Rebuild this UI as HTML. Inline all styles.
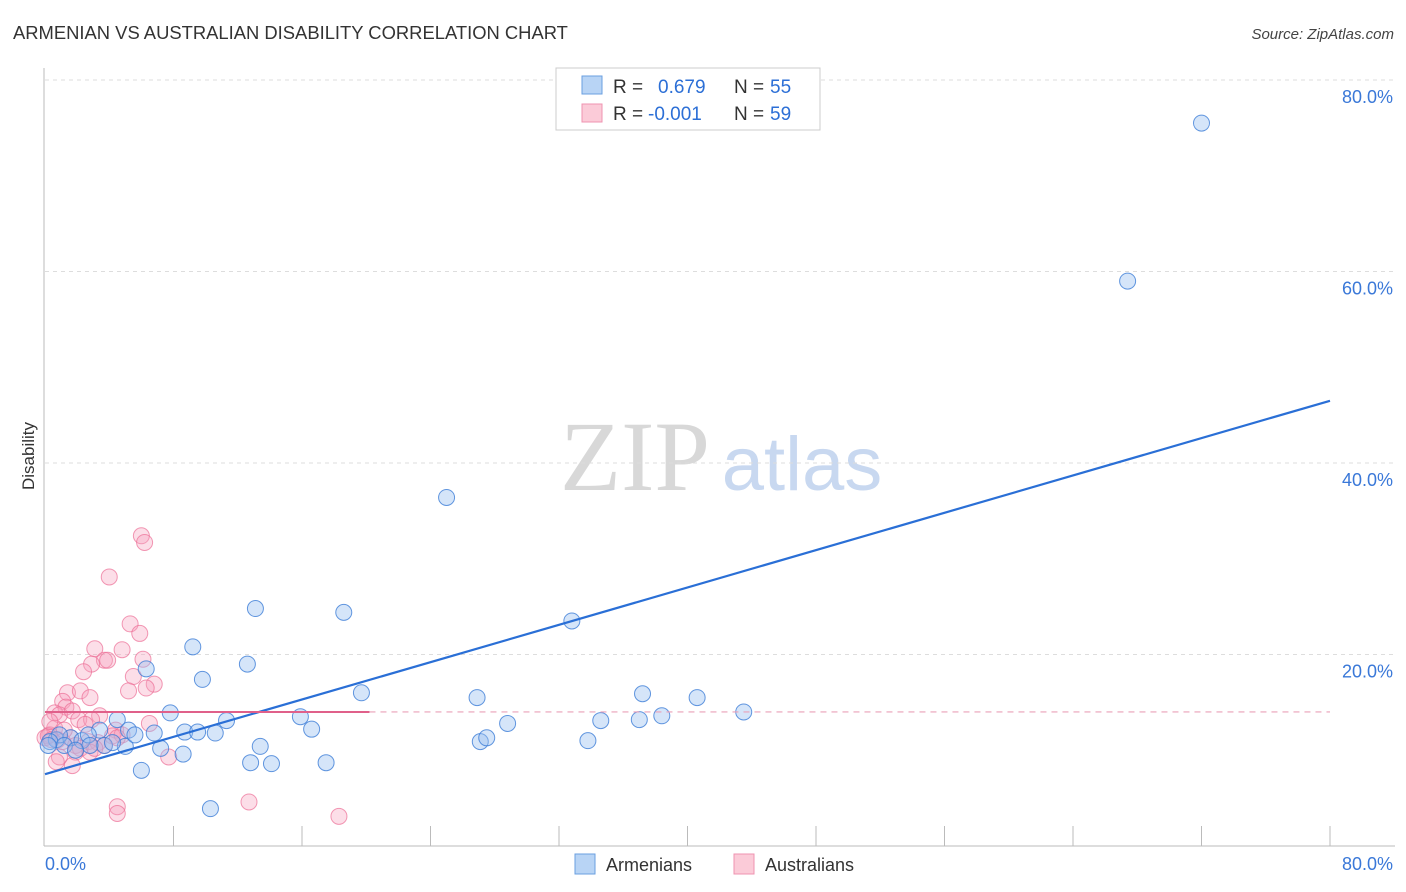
<!DOCTYPE html>
<html><head><meta charset="utf-8"><style>
body{margin:0;background:#fff;font-family:"Liberation Sans",sans-serif}
svg{display:block}
</style></head><body>
<svg id="chart" width="1406" height="892" viewBox="0 0 1406 892">
<text x="13" y="39" font-size="18.4" fill="#333">ARMENIAN VS AUSTRALIAN DISABILITY CORRELATION CHART</text>
<text x="1394" y="39" font-size="15" fill="#444" font-style="italic" text-anchor="end">Source: ZipAtlas.com</text>
<g>
<text x="635" y="490" font-size="100" font-family="Liberation Serif" fill="#d8d8d8" text-anchor="middle">ZIP</text>
<text x="802" y="490" font-size="76" fill="#c8d8f0" text-anchor="middle">atlas</text>
</g>
<g id="grid"></g>
<g id="axes"></g>
<g id="pts"></g>
<g id="trend"></g>
<g>
<rect x="556" y="68" width="264" height="62" fill="#fff" stroke="#ccc"/>
<rect x="582" y="76" width="20" height="18" fill="#b8d4f5" stroke="#6a9fe0"/>
<rect x="582" y="104" width="20" height="18" fill="#fbcbd8" stroke="#ef93b0"/>
<text x="613" y="93" font-size="19" fill="#333">R =</text>
<text x="658" y="93" font-size="19" fill="#2c6fd6">0.679</text>
<text x="734" y="93" font-size="19" fill="#333">N =</text>
<text x="770" y="93" font-size="19" fill="#2c6fd6">55</text>
<text x="613" y="120" font-size="19" fill="#333">R =</text>
<text x="648" y="120" font-size="19" fill="#2c6fd6">-0.001</text>
<text x="734" y="120" font-size="19" fill="#333">N =</text>
<text x="770" y="120" font-size="19" fill="#2c6fd6">59</text>
</g>
<g>
<rect x="575" y="854" width="20" height="20" fill="#b8d4f5" stroke="#6a9fe0"/>
<text x="606" y="871" font-size="18" fill="#333">Armenians</text>
<rect x="734" y="854" width="20" height="20" fill="#fbcbd8" stroke="#ef93b0"/>
<text x="765" y="871" font-size="18" fill="#333">Australians</text>
</g>
<text x="34" y="456" font-size="17" fill="#333" text-anchor="middle" transform="rotate(-90 34 456)">Disability</text>
</svg>
<script>
const armX=[72.0,67.4,25.0,32.8,13.1,18.6,9.2,12.6,6.3,9.8,19.7,26.9,37.2,40.6,43.5,7.8,15.9,38.4,28.8,34.6,37.0,11.3,4.5,5.2,8.7,9.5,10.6,16.6,6.8,27.1,27.5,33.8,13.4,3.4,7.2,5.0,0.7,1.6,2.3,3.7,8.6,12.8,14.1,17.5,6.0,10.3,0.9,2.7,0.3,1.2,2.8,4.2,5.6,1.9,0.2];
const armY=[75.5,59.0,36.4,23.5,24.8,24.4,20.8,19.0,18.5,17.4,16.0,15.5,15.9,15.5,14.0,13.9,13.5,13.6,12.8,13.1,13.2,13.1,13.2,12.1,11.9,11.9,11.8,12.2,11.8,10.9,11.3,11.0,10.4,12.1,10.2,10.4,11.1,11.3,11.0,10.5,9.6,8.7,8.6,8.7,7.9,3.9,11.6,11.6,10.9,10.5,10.5,10.8,11.6,10.0,10.5];
const ausX=[6.0,6.2,4.0,5.3,5.9,3.1,4.8,3.7,3.9,2.9,6.1,2.4,5.5,6.8,6.3,5.2,1.4,2.2,2.8,1.1,1.3,0.6,0.9,1.7,3.4,2.1,2.9,6.5,2.5,4.4,0.6,0.3,1.6,0.8,0.0,0.2,0.4,1.1,1.9,2.7,3.3,4.2,4.8,2.2,3.7,0.9,1.9,2.8,7.7,1.7,0.7,3.1,4.5,1.2,0.3,4.5,4.5,12.7,18.3];
const ausY=[32.4,31.7,28.1,23.2,22.2,20.6,20.5,19.4,19.4,19.0,19.5,18.2,17.7,16.9,16.5,16.2,16.0,16.2,15.5,15.1,14.5,13.9,13.7,14.1,13.6,13.2,13.2,12.8,12.7,12.1,12.3,11.6,11.3,11.1,11.3,11.5,11.1,10.9,10.5,10.9,10.8,11.5,11.6,10.2,10.5,9.3,9.8,9.8,9.3,8.4,8.8,10.2,11.3,12.1,13.0,4.1,3.4,4.6,3.1];
const yTicks=[20,40,60,80];
const yTickLabels=["20.0%","40.0%","60.0%","80.0%"];
const xTicks=[8,16,24,32,40,48,56,64,72,80];
const armTrend=[7.5,46.5];
const ausTrend=[14.0,14.0];
const ausSolidEnd=20.2;
const NS="http://www.w3.org/2000/svg";
const X=v=>45+v*(1285/80), Y=v=>846-v*(766/80);
function mk(tag,attrs,parent){const e=document.createElementNS(NS,tag);for(const k in attrs)e.setAttribute(k,attrs[k]);parent.appendChild(e);return e;}
const grid=document.getElementById('grid'),axes=document.getElementById('axes'),pts=document.getElementById('pts'),trend=document.getElementById('trend');
yTicks.forEach((t,i)=>{
 const l=mk('line',{x1:45,x2:1395,y1:Y(t),y2:Y(t),stroke:'#ddd','stroke-dasharray':'4,4'},grid);
 
 
 const tx=mk('text',{x:1393,y:Y(t)+23,'font-size':18,fill:'#3a78d8','text-anchor':'end'},axes);
 tx.textContent=yTickLabels[i];
 
 
});
const ax=mk('line',{x1:44,x2:44,y1:68,y2:846,stroke:'#bbb'},axes);


const bx=mk('line',{x1:44,x2:1395,y1:846,y2:846,stroke:'#bbb'},axes);


xTicks.forEach(v=>{const t=mk('line',{x1:X(v),x2:X(v),y1:826,y2:846,stroke:'#bbb'},axes);
 
 });
const x0=mk('text',{x:45,y:870,'font-size':18,fill:'#3a78d8'},axes);x0.textContent='0.0%';


const x1=mk('text',{x:1393,y:870,'font-size':18,fill:'#3a78d8','text-anchor':'end'},axes);x1.textContent='80.0%';


ausX.forEach((v,i)=>{const c=mk('circle',{cx:X(v),cy:Y(ausY[i]),r:8,fill:'rgba(247,160,190,0.35)',stroke:'rgba(236,110,150,0.7)','stroke-width':1},pts);
 
 });
armX.forEach((v,i)=>{const c=mk('circle',{cx:X(v),cy:Y(armY[i]),r:8,fill:'rgba(150,190,240,0.4)',stroke:'rgba(60,125,215,0.8)','stroke-width':1},pts);
 
 });
const bl=mk('line',{x1:X(0),y1:Y(armTrend[0]),x2:X(80),y2:Y(armTrend[1]),stroke:'#2a6fd6','stroke-width':2.2},trend);


const pl=mk('line',{x1:X(0),y1:Y(ausTrend[0]),x2:X(ausSolidEnd),y2:Y(ausTrend[0]+(ausTrend[1]-ausTrend[0])*ausSolidEnd/80),stroke:'#e0608a','stroke-width':2},trend);


const pd=mk('line',{x1:X(ausSolidEnd),y1:Y(ausTrend[0]),x2:X(80),y2:Y(ausTrend[1]),stroke:'#eaa0b8','stroke-width':1.2,'stroke-dasharray':'6,5'},trend);


</script>
</body></html>
